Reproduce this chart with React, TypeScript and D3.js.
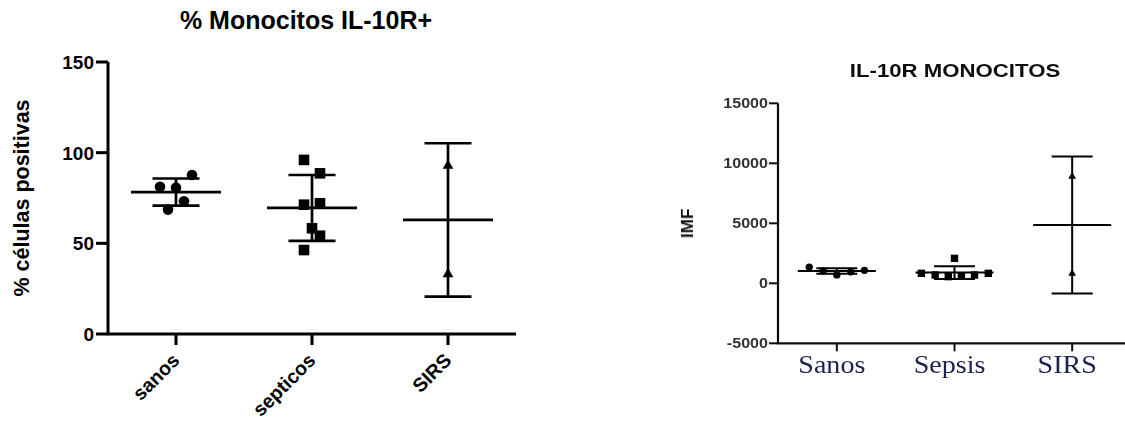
import React from 'react';
import * as d3 from 'd3';

// ---------- Left chart: % Monocitos IL-10R+ ----------
const pctCategories = ['sanos', 'septicos', 'SIRS'];
const pctSanos = [81.2, 80.7, 87.7, 73.2, 68.6];
const pctSanosSlots = [-2, 0, 2, 1, -1];
const pctSepticos = [96, 88.6, 71.3, 72.1, 58.3, 54.2, 46.3];
const pctSepticosSlots = [-1, 1, -1, 1, 0, 1, -1];
const pctSirs = [92.8, 33.0];
const pctSirsSlots = [0, 0];
const pctTicks = [0, 50, 100, 150];

// ---------- Right chart: IL-10R MONOCITOS ----------
const imfCategories = ['Sanos', 'Sepsis', 'SIRS'];
const imfSanos = [1350, 1020, 700, 960, 1080];
const imfSanosSlots = [-2, -1, 0, 1, 2];
const imfSepsis = [2080, 830, 690, 555, 610, 690, 830];
const imfSepsisSlots = [0, -2.4, -1.4, -0.45, 0.5, 1.45, 2.45];
const imfSirs = [8900, 820];
const imfSirsSlots = [0, 0];
const imfTicks = [-5000, 0, 5000, 10000, 15000];

type Shape = 'circle' | 'square' | 'triangle';
interface Group { name: string; values: number[]; slots: number[]; shape: Shape }

const pctGroups: Group[] = [
  { name: pctCategories[0], values: pctSanos, slots: pctSanosSlots, shape: 'circle' },
  { name: pctCategories[1], values: pctSepticos, slots: pctSepticosSlots, shape: 'square' },
  { name: pctCategories[2], values: pctSirs, slots: pctSirsSlots, shape: 'triangle' },
];
const imfGroups: Group[] = [
  { name: imfCategories[0], values: imfSanos, slots: imfSanosSlots, shape: 'circle' },
  { name: imfCategories[1], values: imfSepsis, slots: imfSepsisSlots, shape: 'square' },
  { name: imfCategories[2], values: imfSirs, slots: imfSirsSlots, shape: 'triangle' },
];

function Marker({ shape, x, y, r, tri }: { shape: Shape; x: number; y: number; r: number; tri: number }) {
  if (shape === 'circle') return <circle cx={x} cy={y} r={r} fill="#000" />;
  if (shape === 'square') return <rect x={x - r} y={y - r} width={2 * r} height={2 * r} fill="#000" />;
  const p = d3.symbol(d3.symbolTriangle, tri)();
  return <path d={p || ''} transform={`translate(${x},${y})`} fill="#000" />;
}

function ErrorBars({ groups, x, y, meanHalf, capHalf, sw }: any) {
  return (
    <g stroke="#000" strokeWidth={sw} fill="none">
      {groups.map((g: Group) => {
        const m = d3.mean(g.values) as number;
        const sd = d3.deviation(g.values) as number;
        const cx = x(g.name);
        return (
          <g key={g.name}>
            <line x1={cx} x2={cx} y1={y(m + sd)} y2={y(m - sd)} />
            <line x1={cx - capHalf} x2={cx + capHalf} y1={y(m + sd)} y2={y(m + sd)} />
            <line x1={cx - capHalf} x2={cx + capHalf} y1={y(m - sd)} y2={y(m - sd)} />
            <line x1={cx - meanHalf} x2={cx + meanHalf} y1={y(m)} y2={y(m)} />
          </g>
        );
      })}
    </g>
  );
}

function LeftChart() {
  const x = d3.scalePoint<string>().domain(pctCategories).range([108, 516]).padding(0.5);
  const y = d3.scaleLinear().domain([0, 150]).range([334, 62]);
  const jit = d3.scaleLinear().domain([0, 1]).range([0, 8]);
  const font = 'Liberation Sans, Arial, sans-serif';
  return (
    <g fontFamily={font} fontWeight="bold">
      <text x={306} y={29} textAnchor="middle" fontSize={25}>% Monocitos IL-10R+</text>
      <text transform={`translate(29,${(y(0) + y(150)) / 2}) rotate(-90)`} textAnchor="middle" fontSize={21.5}>% células positivas</text>
      <path d={`M108,${y(150)} V${y(0)} H516`} stroke="#000" strokeWidth={3} fill="none" />
      {pctTicks.map(t => (
        <g key={t}>
          <line x1={96} x2={108} y1={y(t)} y2={y(t)} stroke="#000" strokeWidth={3} />
          <text x={94} y={y(t)} dy="0.36em" textAnchor="end" fontSize={19}>{t}</text>
        </g>
      ))}
      {pctCategories.map(c => (
        <g key={c}>
          <line x1={x(c)} x2={x(c)} y1={y(0)} y2={y(0) + 11} stroke="#000" strokeWidth={3} />
          <text transform={`translate(${(x(c) as number) - 5},${y(0) + 18}) rotate(-45)`} textAnchor="end" dy="0.7em" fontSize={19.5}>{c}</text>
        </g>
      ))}
      <ErrorBars groups={pctGroups} x={x} y={y} meanHalf={45} capHalf={23.5} sw={2.7} />
      {pctGroups.map(g => g.values.map((v, i) => (
        <Marker key={g.name + i} shape={g.shape} x={(x(g.name) as number) + jit(g.slots[i])} y={y(v)} r={5.3} tri={50} />
      )))}
    </g>
  );
}

function RightChart() {
  const x = d3.scalePoint<string>().domain(imfCategories).range([778, 1131]).padding(0.5);
  const y = d3.scaleLinear().domain([-5000, 15000]).range([343.3, 103.3]);
  const jit = d3.scaleLinear().domain([0, 1]).range([0, 13.8]);
  const font = 'Liberation Sans, Arial, sans-serif';
  return (
    <g fontFamily={font} filter="url(#soft)">
      <text transform="translate(955,77) scale(1.2,1)" textAnchor="middle" fontSize={18.5} fontWeight="bold" fill="#111">IL-10R MONOCITOS</text>
      <text transform={`translate(693,${y(5000)}) rotate(-90)`} textAnchor="middle" fontSize={17} fontWeight="bold" fill="#111">IMF</text>
      <path d={`M778,${y(15000)} V${y(-5000)} H1131`} stroke="#111" strokeWidth={2.2} fill="none" />
      {imfTicks.map(t => (
        <g key={t}>
          <line x1={769} x2={778} y1={y(t)} y2={y(t)} stroke="#111" strokeWidth={2} />
          <text transform={`translate(768,${y(t)}) scale(1.15,1)`} dy="0.36em" textAnchor="end" fontSize={14} fontWeight="bold" fill="#333">{t}</text>
        </g>
      ))}
      {imfCategories.map(c => (
        <g key={c}>
          <line x1={x(c)} x2={x(c)} y1={y(-5000)} y2={y(-5000) + 8} stroke="#111" strokeWidth={2} />
          <text transform={`translate(${(x(c) as number) - 5},373) scale(1.08,1)`} textAnchor="middle" fontSize={26} fontFamily="Liberation Serif, 'DejaVu Serif', serif" fill="#1c2050">{c}</text>
        </g>
      ))}
      <ErrorBars groups={imfGroups} x={x} y={y} meanHalf={39} capHalf={20.5} sw={2} />
      {imfGroups.map(g => g.values.map((v, i) => (
        <Marker key={g.name + i} shape={g.shape} x={(x(g.name) as number) + jit(g.slots[i])} y={y(v)} r={3.7} tri={26} />
      )))}
    </g>
  );
}

export default function App() {
  return (
    <svg width={1125} height={421} style={{ position: 'absolute', left: 0, top: 0, background: '#fff' }}>
      <defs>
        <filter id="soft" x="-5%" y="-5%" width="110%" height="110%">
          <feGaussianBlur stdDeviation="0.45" />
        </filter>
      </defs>
      <rect width={1125} height={421} fill="#fff" />
      <LeftChart />
      <RightChart />
    </svg>
  );
}
